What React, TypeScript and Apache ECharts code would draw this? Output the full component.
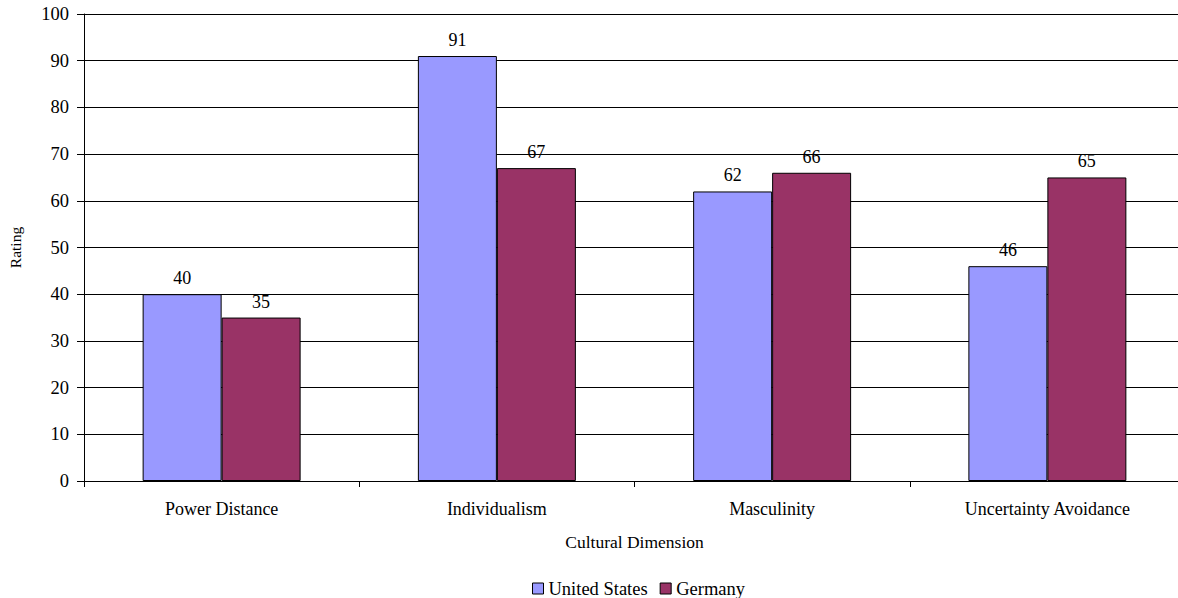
import React, { useEffect, useRef } from "react";
import * as echarts from "echarts";

const categories = ["Power Distance", "Individualism", "Masculinity", "Uncertainty Avoidance"];
const unitedStates = [40, 91, 62, 46];
const germany = [35, 67, 66, 65];
const seriesNames = ["United States", "Germany"];

const FONT = "'Times New Roman', Tinos, 'Liberation Serif', 'DejaVu Serif', serif";

export default function App() {
  const ref = useRef<HTMLDivElement>(null);
  useEffect(() => {
    document.body.style.margin = "0";
    const chart = echarts.init(ref.current!, null, { renderer: "svg" });
    const labelCfg = {
      show: true,
      position: "top" as const,
      distance: 7,
      color: "#000",
      fontFamily: FONT,
      fontSize: 18,
    };
    chart.setOption({
      animation: false,
      textStyle: { fontFamily: FONT, color: "#000" },
      grid: { left: 84, right: -7, top: 14, bottom: 117, containLabel: false, outerBoundsMode: "none" },
      legend: {
        top: 574,
        left: 527,
        itemWidth: 11,
        itemHeight: 11,
        itemGap: 12,
        icon: "rect",
        itemStyle: { borderColor: "#000", borderWidth: 1 },
        textStyle: { fontFamily: FONT, fontSize: 18.5, color: "#000" },
        data: seriesNames,
      },
      xAxis: {
        type: "category",
        data: categories,
        name: "Cultural Dimension",
        nameLocation: "middle",
        nameGap: 52,
        nameTextStyle: { fontFamily: FONT, fontSize: 17.5, color: "#000" },
        axisLine: { lineStyle: { color: "#000", width: 1 } },
        axisTick: { show: true, length: 6, lineStyle: { color: "#000" } },
        axisLabel: { fontFamily: FONT, fontSize: 18, color: "#000", margin: 19 },
      },
      yAxis: {
        type: "value",
        min: 0,
        max: 100,
        interval: 10,
        name: "Rating",
        nameLocation: "middle",
        nameGap: 61,
        nameRotate: 90,
        nameTextStyle: { fontFamily: FONT, fontSize: 15.5, color: "#000" },
        axisLine: { show: true, lineStyle: { color: "#000", width: 1 } },
        axisTick: { show: true, length: 7, lineStyle: { color: "#000" } },
        axisLabel: { fontFamily: FONT, fontSize: 18.5, color: "#000", margin: 15 },
        splitLine: { show: true, lineStyle: { color: "#000", width: 1 } },
      },
      series: [
        {
          name: seriesNames[0],
          type: "bar",
          data: unitedStates,
          barGap: "0%",
          barCategoryGap: "42.6%",
          itemStyle: { color: "#9999FF", borderColor: "#000", borderWidth: 1 },
          label: labelCfg,
        },
        {
          name: seriesNames[1],
          type: "bar",
          data: germany,
          barGap: "0%",
          barCategoryGap: "42.6%",
          itemStyle: { color: "#993366", borderColor: "#000", borderWidth: 1 },
          label: labelCfg,
        },
      ],
    });
    return () => chart.dispose();
  }, []);
  return <div ref={ref} style={{ width: 1178, height: 598 }} />;
}
